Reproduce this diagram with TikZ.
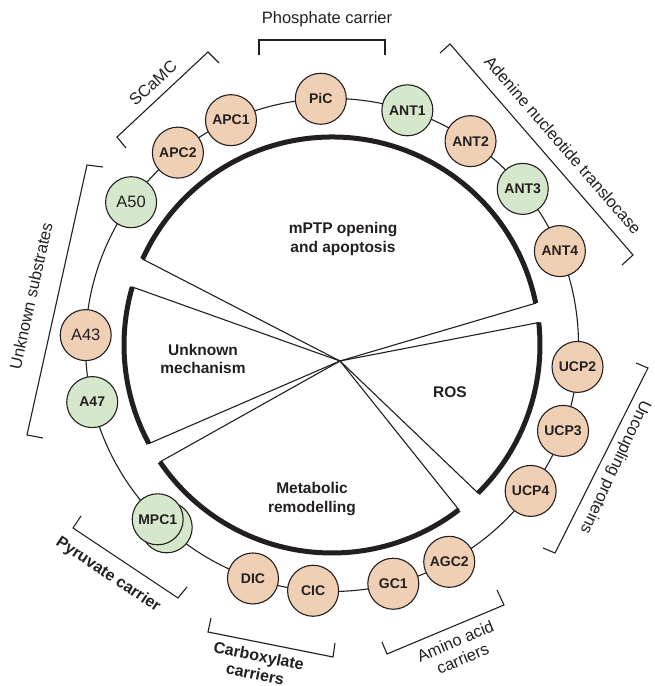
\documentclass[tikz,border=0pt]{standalone}
\usepackage{fontspec}
\setmainfont{Liberation Sans}
\usetikzlibrary{calc}
\definecolor{peach}{RGB}{240,208,180}
\definecolor{mint}{RGB}{213,232,204}
\definecolor{ink}{RGB}{35,31,32}
\tikzset{
  carrier/.style={circle, draw=ink, line width=1.1pt, minimum size=51pt, inner sep=0pt,
    text=ink, font=\fontsize{14}{16}\selectfont\bfseries},
  pcirc/.style={carrier, fill=peach},
  gcirc/.style={carrier, fill=mint},
  plain/.style={font=\fontsize{16.5}{18}\selectfont},
  wedge/.style={draw=ink, line width=1.1pt, line join=miter},
  rim/.style={draw=ink, line width=5pt},
  bracket/.style={draw=ink, line width=1.1pt},
  grouplabel/.style={text=ink, font=\fontsize{16.5}{19}\selectfont, align=center, inner sep=0pt},
  boldlabel/.style={text=ink, font=\fontsize{16}{18.5}\selectfont\bfseries, align=center, inner sep=0pt},
  effect/.style={text=ink, font=\fontsize{15.5}{18.5}\selectfont\bfseries, align=center, inner sep=0pt}
}
\begin{document}
\begin{tikzpicture}[x=1pt,y=1pt]
\useasboundingbox (0,0) rectangle (654,686);
\coordinate (O) at (332,341);
\coordinate (P) at (340,325);
% membrane circle
\draw[ink, line width=1.1pt] (O) circle[radius=246.5pt];
% wedges
\draw[wedge] (P) -- ($(O)+(11.6:208pt)$) arc[start angle=11.6, end angle=155.6, radius=208pt] -- cycle;
\draw[rim] ($(O)+(11.6:208pt)$) arc[start angle=11.6, end angle=155.6, radius=208pt];
\draw[wedge] (P) -- ($(O)+(-45.4:208pt)$) arc[start angle=-45.4, end angle=6.2, radius=208pt] -- cycle;
\draw[rim] ($(O)+(-45.4:208pt)$) arc[start angle=-45.4, end angle=6.2, radius=208pt];
\draw[wedge] (P) -- ($(O)+(214.2:208pt)$) arc[start angle=214.2, end angle=307.6, radius=208pt] -- cycle;
\draw[rim] ($(O)+(214.2:208pt)$) arc[start angle=214.2, end angle=307.6, radius=208pt];
\draw[wedge] (P) -- ($(O)+(163.8:208pt)$) arc[start angle=163.8, end angle=208.3, radius=208pt] -- cycle;
\draw[rim] ($(O)+(163.8:208pt)$) arc[start angle=163.8, end angle=208.3, radius=208pt];
% effect labels
\node[effect] (mptp) at (343,447) {mPTP opening\\and apoptosis};
\node[effect] (unk) at (203,327) {Unknown\\mechanism};
\node[effect] (ros) at (450,294) {ROS};
\node[effect] (meta) at (312,187) {Metabolic\\remodelling};
% carriers
\node[pcirc] (PiC) at ($(O)+(92.6:246.5pt)$) {PiC};
\node[gcirc] (ANT1) at ($(O)+(72.2:246.5pt)$) {ANT1};
\node[pcirc] (ANT2) at ($(O)+(55.8:246.5pt)$) {ANT2};
\node[gcirc] (ANT3) at ($(O)+(39.3:246.5pt)$) {ANT3};
\node[pcirc] (ANT4) at ($(O)+(22.4:246.5pt)$) {ANT4};
\node[pcirc] (UCP2) at ($(O)+(-5.1:246.5pt)$) {UCP2};
\node[pcirc] (UCP3) at ($(O)+(-20.4:246.5pt)$) {UCP3};
\node[pcirc] (UCP4) at ($(O)+(-36.3:246.5pt)$) {UCP4};
\node[pcirc] (AGC2) at ($(O)+(-61.6:246.5pt)$) {AGC2};
\node[pcirc] (GC1) at ($(O)+(-75.6:246.5pt)$) {GC1};
\node[pcirc] (CIC) at ($(O)+(-94.4:246.5pt)$) {CIC};
\node[pcirc] (DIC) at ($(O)+(-108.7:246.5pt)$) {DIC};
\node[gcirc] (MPC1b) at ($(O)+(-135:246.5pt)+(9,-8)$) {};
\node[gcirc] (MPC1) at ($(O)+(-135:246.5pt)$) {MPC1};
\node[gcirc] (A47) at ($(O)+(193.4:246.5pt)$) {A47};
\node[pcirc, plain] (A43) at ($(O)+(177.7:246.5pt)$) {A43};
\node[gcirc, plain] (A50) at ($(O)+(144.6:246.5pt)$) {A50};
\node[pcirc] (APC2) at ($(O)+(128.7:246.5pt)$) {APC2};
\node[pcirc] (APC1) at ($(O)+(114.2:246.5pt)$) {APC1};
% brackets
\draw[bracket] (259,631) -- (259,646) -- (385,646) -- (385,631);
\draw[bracket] (126,538) -- (117,549) -- (208,634) -- (219,623);
\draw[bracket] (440,633) -- (450,642) -- (633,431) -- (622,421);
\draw[bracket] (103,519) -- (87,521) -- (27,251) -- (43,248);
\draw[bracket] (636,323) -- (648,318) -- (555,133) -- (543,138);
\draw[bracket] (81,170) -- (73,158) -- (178,88) -- (187,99);
\draw[bracket] (211,68) -- (208,54) -- (333,29) -- (335,43);
\draw[bracket] (382,44) -- (387,32) -- (504,81) -- (497,96);
% group labels
\node[grouplabel] (lphos) at (327,667) {Phosphate carrier};
\node[grouplabel, rotate=42] (lscamc) at (153,603) {SCaMC};
\node[grouplabel, rotate=-49] (lant) at (563,541) {Adenine nucleotide translocase};
\node[grouplabel, rotate=77.5] (lunk) at (31,390) {Unknown substrates};
\node[grouplabel, rotate=-115] (lucp) at (615,219) {Uncoupling proteins};
\node[boldlabel, rotate=-33.7] (lpyr) at (108,111) {Pyruvate carrier};
\node[boldlabel, rotate=-11.3] (lcarb) at (257,21) {Carboxylate\\carriers};
\node[grouplabel, rotate=23] (lamino) at (459,36) {Amino acid\\carriers};
\end{tikzpicture}
\end{document}
